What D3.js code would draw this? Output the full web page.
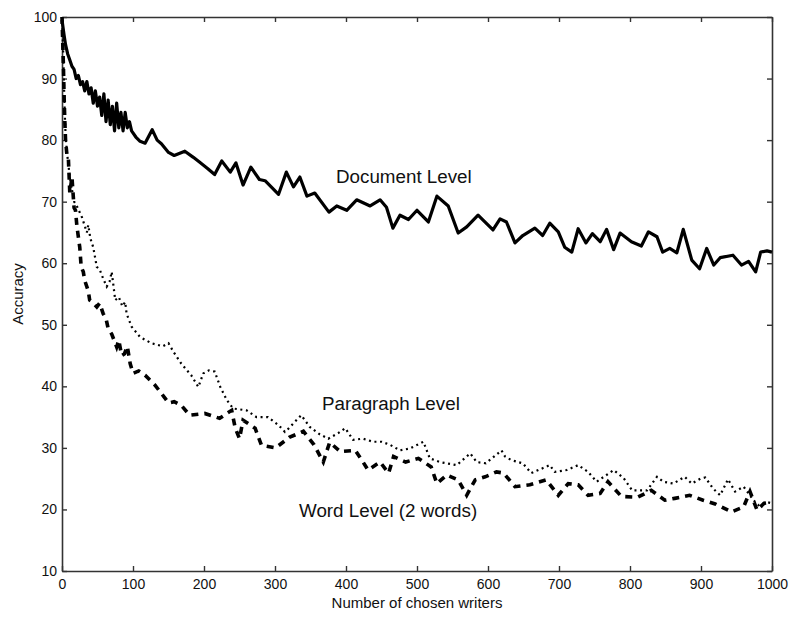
<!DOCTYPE html>
<html>
<head>
<meta charset="utf-8">
<script src="https://cdn.jsdelivr.net/npm/d3@7"></script>
<style>
  html, body { margin: 0; padding: 0; background: #fff; }
  svg { display: block; }
  text { font-family: "Liberation Sans", Arial, Helvetica, sans-serif; fill: #111; }
</style>
</head>
<body>
<svg id="chart" width="791" height="617"></svg>
<script>
// Accuracy vs. number of chosen writers, three identification levels

const xTicks = [0, 100, 200, 300, 400, 500, 600, 700, 800, 900, 1000];
const yTicks = [10, 20, 30, 40, 50, 60, 70, 80, 90, 100];

const docX = [0,3,5,8,11,14,17,20,23,26,29,32,35,38,41,44,47,50,53,56,59,62,65,68,71,74,77,80,83,86,89,92,95,98,104,110,117,127,134,140,150,158,173,185,194,205,215,225,237,245,255,266,278,286,305,316,326,335,345,356,376,387,401,415,434,448,457,466,476,488,500,516,528,544,558,570,586,607,617,626,638,649,666,677,687,699,708,718,727,738,747,758,767,777,786,802,816,826,838,846,856,866,875,887,898,908,918,927,945,957,967,977,984,993,1000];
const docY = [99.5,97,95.5,94,93,92,91.5,90,90.5,89,89.5,88,89.5,87.5,88.5,86,88,85.5,87,84,87.5,83,86.5,82.5,85.5,81.5,86,82,84.5,81.5,84.5,82,83,81.5,80.5,79.8,79.5,81.7,80,79.4,78,77.5,78.2,77.2,76.4,75.4,74.4,76.6,74.8,76.3,72.7,75.6,73.6,73.4,71.2,74.8,72.4,74,70.9,71.4,68.3,69.3,68.6,70.3,69.3,70.3,69.1,65.7,67.8,67.1,68.6,66.7,70.9,69.3,64.9,65.9,67.8,65.4,67.2,66.7,63.3,64.5,65.7,64.5,66.5,65.1,62.6,61.8,65.6,63.3,64.8,63.5,65.5,62.2,64.9,63.5,62.8,65.1,64.3,61.8,62.4,61.7,65.5,60.5,59.1,62.4,59.7,60.9,61.3,59.7,60.3,58.6,61.8,62,61.8];

const paraX = [0,2,3,4,5,7,9,11,14,17,20,28,35,37,40,44,49,53,58,63,67,70,75,80,85,89,91,98,110,126,142,150,157,168,182,192,199,207,215,223,232,241,260,274,290,305,314,317,331,337,349,363,375,389,399,410,424,438,450,462,476,490,509,518,532,556,575,584,597,614,619,624,633,649,661,687,694,711,727,741,753,777,791,803,824,838,847,861,877,887,899,906,917,927,938,948,960,974,981,993,1000];
const paraY = [100,93,88,84,81,78,76,74,72,70,69.5,67.5,65,66.2,64,62.6,59.4,59,57.5,56.2,57,58.6,54,54.5,53,53.7,51.8,49.7,48,47,46.5,47,45.6,43.7,41.8,39.9,42.1,42.6,42.4,39.9,37.8,36.4,36.1,35,35,33.7,32.6,32.9,34.6,35.3,33.4,32.2,31.5,32.4,33.2,31.3,31.5,31,31,30.5,29.6,29.9,31,28.3,27.7,27.2,29.1,27.7,27.5,29.1,29.6,28.6,28,27.5,25.9,27.2,26.1,26.4,27.2,26.1,24.5,26.4,25.1,23.1,23.1,25.3,24.5,24.2,25.3,24.2,25,25.2,23.4,22.3,24.9,22.9,23.7,21.5,20.7,21.2,21];

const wordX = [0,2,3,4,5,7,9,11,14,17,19,21,25,27,30,32,37,39,44,49,53,58,62,65,70,77,80,84,88,92,96,100,108,117,131,145,150,158,168,180,201,222,231,239,244,250,255,272,281,301,320,340,355,368,377,392,413,424,431,448,460,467,484,502,520,528,542,558,570,582,596,612,622,638,659,682,699,713,727,741,758,769,788,811,830,849,863,884,903,920,943,960,969,979,989,1000];
const wordY = [100,92,87,83,80,77.5,77,71.4,74,69,68.6,66,62.6,59.4,58.6,57.2,55.5,54,53.5,52.9,53.5,51.8,51,49.4,48.5,46.4,47.5,45,45.3,46.5,43.7,42.1,42.5,41.8,40.2,38.1,37.3,37.5,36.9,35.3,35.6,34.8,35.5,36.1,33.2,31.5,34.5,33.2,30.4,30,31.7,32.7,30.5,27.7,30.9,29.4,29.6,27.7,26.4,27.7,25.9,28.6,27.7,28.3,26.9,24.2,25.6,24.8,22.3,24.8,25.3,26.1,25.9,23.7,24,24.8,22.3,24.2,24,22.3,22.6,24.5,22.1,22,23.1,21.5,21.8,22.3,21.5,20.9,19.6,20.4,22.9,19.9,21,21.2];

const svg = d3.select("#chart");
const plotLeft = 62, plotRight = 772, plotTop = 17, plotBottom = 571;

const x = d3.scaleLinear().domain([0, 1000]).range([plotLeft, plotRight]);
const y = d3.scaleLinear().domain([10, 100]).range([plotBottom, plotTop]);

const axisColor = "#333";

// box axes with inward ticks
function styleAxis(g) {
  g.select(".domain").attr("stroke", axisColor).attr("stroke-width", 1.6);
  g.selectAll(".tick line").attr("stroke", axisColor).attr("stroke-width", 1.4);
  g.selectAll(".tick text")
    .style("font-family", '"Liberation Sans", Arial, sans-serif')
    .style("font-size", "14px")
    .attr("fill", "#111");
}

svg.append("g")
  .attr("transform", `translate(0,${plotBottom})`)
  .call(d3.axisBottom(x).tickValues(xTicks).tickSizeInner(-5).tickSizeOuter(0).tickPadding(8).tickFormat(d3.format("d")))
  .call(styleAxis);

svg.append("g")
  .attr("transform", `translate(0,${plotTop})`)
  .call(d3.axisTop(x).tickValues(xTicks).tickSizeInner(-5).tickSizeOuter(0).tickFormat(""))
  .call(styleAxis);

svg.append("g")
  .attr("transform", `translate(${plotLeft},0)`)
  .call(d3.axisLeft(y).tickValues(yTicks).tickSizeInner(-5).tickSizeOuter(0).tickPadding(5).tickFormat(d3.format("d")))
  .call(styleAxis);

svg.append("g")
  .attr("transform", `translate(${plotRight},0)`)
  .call(d3.axisRight(y).tickValues(yTicks).tickSizeInner(-5).tickSizeOuter(0).tickFormat(""))
  .call(styleAxis);

// curves
const line = d3.line().x(d => x(d[0])).y(d => y(d[1]));
const zip = (xs, ys) => xs.map((v, i) => [v, ys[i]]);

svg.append("path")
  .datum(zip(paraX, paraY))
  .attr("fill", "none").attr("stroke", "#000")
  .attr("stroke-width", 2.2)
  .attr("stroke-dasharray", "2,3.6")
  .attr("d", line);

svg.append("path")
  .datum(zip(wordX, wordY))
  .attr("fill", "none").attr("stroke", "#000")
  .attr("stroke-width", 3.6)
  .attr("stroke-dasharray", "7,6")
  .attr("d", line);

svg.append("path")
  .datum(zip(docX, docY))
  .attr("fill", "none").attr("stroke", "#000")
  .attr("stroke-width", 3.2)
  .attr("stroke-linejoin", "round")
  .attr("d", line);

// curve labels
const labelSize = "18.8px";
svg.append("text").attr("x", 336).attr("y", 183).style("font-size", labelSize).text("Document Level");
svg.append("text").attr("x", 322).attr("y", 410).style("font-size", labelSize).text("Paragraph Level");
svg.append("text").attr("x", 299).attr("y", 517).style("font-size", labelSize).text("Word Level (2 words)");

// axis titles
svg.append("text")
  .attr("x", (plotLeft + plotRight) / 2).attr("y", 608)
  .attr("text-anchor", "middle").style("font-size", "15px")
  .text("Number of chosen writers");

svg.append("text")
  .attr("transform", `translate(23,${y(55)}) rotate(-90)`)
  .attr("text-anchor", "middle").style("font-size", "15px")
  .text("Accuracy");
</script>
</body>
</html>
